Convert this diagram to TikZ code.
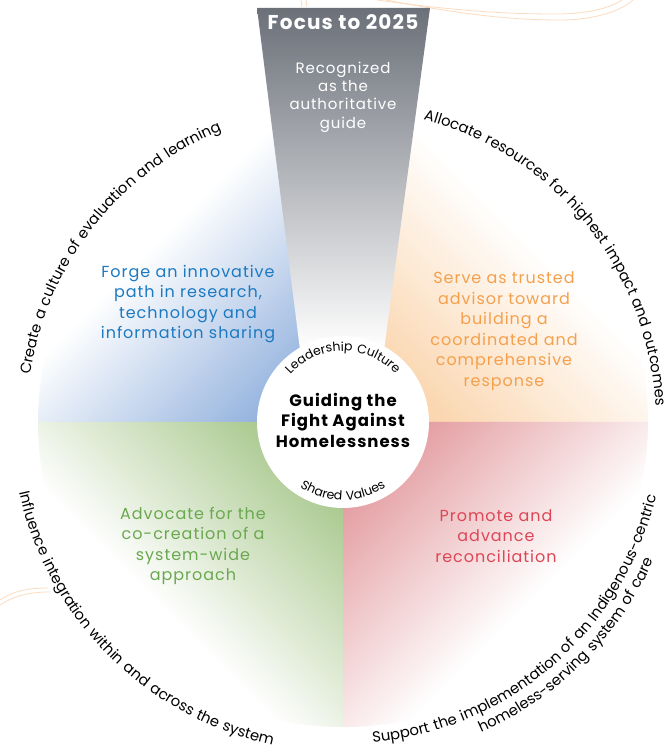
\documentclass[tikz,border=0pt]{standalone}
\usepackage{fontspec}
\setmainfont{Poppins}[LetterSpace=6]
\usetikzlibrary{calc,decorations.text}
\definecolor{blueT}{HTML}{1B7AC2}
\definecolor{orangeT}{HTML}{F5A04C}
\definecolor{greenT}{HTML}{6AA84F}
\definecolor{redT}{HTML}{DD4656}
\definecolor{blueQ}{HTML}{739BD4}
\definecolor{orangeQ}{HTML}{F9C792}
\definecolor{greenQ}{HTML}{91B96E}
\definecolor{redQ}{HTML}{DC8287}
\definecolor{funnelTop}{HTML}{6B7079}
\definecolor{funnelMid}{HTML}{9A9CA1}
\definecolor{decoLine}{HTML}{FBDCC0}
\newcommand\outerfont{\fontsize{14.8}{16}\selectfont}
\newcommand\innerfont{\fontsize{12.5}{14}\selectfont}
\newcommand\quadshade[3]{%
  \begin{scope}
    \clip (C) -- ($(C)+(#1:305)$) arc[start angle=#1, delta angle=90, radius=305] -- cycle;
    \begin{scope}[transform canvas={rotate around={#2:(C)}}]
      \shade[left color=white, right color=#3] ($(C)+(-260,-260)$) rectangle ($(C)+(0,260)$);
    \end{scope}
  \end{scope}}
\newcommand\arctext[5]{%
  \path[decorate, decoration={text along path, text align=center, text={|#5|#4}}]
    ($(C)+(#2:#1)$) arc[start angle=#2, end angle=#3, radius=#1];}
\begin{document}
\begin{tikzpicture}[x=1pt, y=1pt,
  quadtext/.style={align=center, font=\fontsize{16}{20.5}\selectfont},
  funneltext/.style={align=center, text=white, font=\fontsize{15}{18.3}\selectfont},
  decoline/.style={draw=decoLine, line width=0.8pt}]
\useasboundingbox (0,0) rectangle (670,751);
\fill[white] (0,0) rectangle (670,751);
\coordinate (C) at (343,329);
% decorative background lines
\draw[decoline] (301,751) .. controls (301.5,748) .. (302,744);
\draw[decoline] (306,751) .. controls (306.5,748) .. (307,744);
\draw[decoline] (377,751) .. controls (470,738) and (520,737) .. (557,737) .. controls (590,737) and (612,744) .. (622,751);
\draw[decoline] (386,751) .. controls (480,733) and (525,731) .. (560,731) .. controls (597,731) and (622,741) .. (633,751);
\draw[decoline] (0,151) .. controls (12,159) and (25,163) .. (48,163);
\draw[decoline] (0,146) .. controls (14,155) and (28,159) .. (50,159);
% quadrants
\quadshade{90}{-45}{blueQ}
\quadshade{0}{225}{orangeQ}
\quadshade{180}{45}{greenQ}
\quadshade{270}{135}{redQ}
% funnel
\coordinate (fTL) at (257,743);
\coordinate (fTR) at (430,743);
\coordinate (fML) at (300,401);
\coordinate (fMR) at (384,401);
\coordinate (fBL) at (309,329);
\coordinate (fBR) at (374,329);
\fill[white] (fML) -- (fMR) -- (fBR) -- (fBL) -- cycle;
\shade[top color=funnelTop, middle color=funnelMid, bottom color=white] (fTL) -- (fTR) -- (fMR) -- (fML) -- cycle;
\node[text=white, font=\bfseries\fontsize{20}{22}\selectfont] (focus) at (343,729) {Focus to 2025};
\node[funneltext] (recog) at (343,654) {Recognized\\as the\\authoritative\\guide};
% center circle
\node[circle, fill=white, minimum size=172pt, inner sep=0pt] (hub) at (C) {};
\node[align=center, font=\bfseries\fontsize{16.5}{20.5}\selectfont] (title) at (343,331) {Guiding the\\Fight Against\\Homelessness};
\arctext{71}{180}{0}{Leadership Culture}{\innerfont}
\arctext{78}{200}{340}{Shared Values}{\innerfont}
% quadrant texts
\node[quadtext, text=blueT] (qblue) at (188,447) {Forge an innovative\\path in research,\\technology and\\information sharing};
\node[quadtext, text=orangeT] (qorange) at (504,420) {Serve as trusted\\advisor toward\\building a\\coordinated and\\comprehensive\\response};
\node[quadtext, text=greenT] (qgreen) at (193,205) {Advocate for the\\co-creation of a\\system-wide\\approach};
\node[quadtext, text=redT] (qred) at (496,215) {Promote and\\advance\\reconciliation};
% outer arc texts
\arctext{316}{212}{72}{Create a culture of evaluation and learning}{\outerfont}
\arctext{313}{109}{-31}{Allocate resources for highest impact and outcomes}{\outerfont}
\arctext{331}{155}{295}{Influence integration within and across the system}{\outerfont}
\arctext{322}{241}{381}{Support the implementation of an Indigenous-centric}{\outerfont}
\arctext{340}{245}{385}{homeless-serving system of care}{\outerfont}
\end{tikzpicture}
\end{document}
